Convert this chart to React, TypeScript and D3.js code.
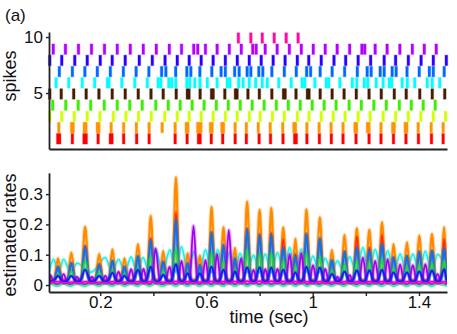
import React, { useEffect, useRef } from 'react';
import * as d3 from 'd3';

// ---- raster: spike times (sec), one list per neuron, row 1 (bottom) first ----
const spikesRed = [0.040, 0.047, 0.095, 0.139, 0.147, 0.192, 0.238, 0.244, 0.288, 0.337, 0.384, 0.482, 0.527, 0.570, 0.576, 0.618, 0.661, 0.708, 0.750, 0.798, 0.841, 0.888, 0.932, 0.938, 0.978, 1.025, 1.070, 1.114, 1.163, 1.212, 1.257, 1.304, 1.351, 1.398, 1.447, 1.491];
const spikesOrange = [0.044, 0.092, 0.098, 0.140, 0.146, 0.189, 0.195, 0.241, 0.288, 0.336, 0.384, 0.433, 0.482, 0.524, 0.530, 0.567, 0.573, 0.579, 0.615, 0.621, 0.658, 0.664, 0.708, 0.750, 0.795, 0.840, 0.887, 0.929, 0.935, 0.978, 1.024, 1.069, 1.114, 1.159, 1.165, 1.206, 1.212, 1.257, 1.301, 1.307, 1.348, 1.354, 1.397, 1.446, 1.491];
const spikesLime = [0.010, 0.055, 0.102, 0.151, 0.199, 0.249, 0.297, 0.344, 0.392, 0.443, 0.490, 0.535, 0.580, 0.625, 0.671, 0.716, 0.761, 0.802, 0.848, 0.893, 0.942, 0.986, 1.032, 1.077, 1.122, 1.171, 1.216, 1.265, 1.312, 1.360, 1.407, 1.454, 1.500];
const spikesGreen = [0.021, 0.070, 0.117, 0.164, 0.215, 0.264, 0.311, 0.358, 0.409, 0.456, 0.501, 0.546, 0.591, 0.637, 0.682, 0.727, 0.772, 0.817, 0.863, 0.908, 0.953, 0.998, 1.043, 1.088, 1.137, 1.183, 1.230, 1.277, 1.326, 1.371, 1.416, 1.461];
const spikesBrown = [0.010, 0.053, 0.100, 0.147, 0.195, 0.245, 0.294, 0.343, 0.391, 0.437, 0.486, 0.528, 0.534, 0.576, 0.619, 0.625, 0.669, 0.709, 0.715, 0.756, 0.799, 0.846, 0.890, 0.896, 0.937, 0.980, 0.986, 1.028, 1.073, 1.118, 1.164, 1.212, 1.258, 1.307, 1.352, 1.403, 1.450, 1.497];
const spikesCyan = [0.034, 0.081, 0.132, 0.179, 0.227, 0.233, 0.281, 0.330, 0.377, 0.418, 0.428, 0.458, 0.469, 0.484, 0.526, 0.537, 0.556, 0.575, 0.603, 0.640, 0.678, 0.688, 0.721, 0.738, 0.761, 0.785, 0.810, 0.829, 0.872, 0.919, 0.960, 0.970, 1.008, 1.051, 1.060, 1.102, 1.149, 1.166, 1.194, 1.207, 1.239, 1.265, 1.288, 1.297, 1.337, 1.356, 1.384, 1.431, 1.450, 1.478];
const spikesAzure = [0.046, 0.095, 0.142, 0.189, 0.238, 0.287, 0.335, 0.383, 0.431, 0.447, 0.484, 0.526, 0.541, 0.575, 0.620, 0.655, 0.671, 0.706, 0.723, 0.753, 0.767, 0.797, 0.812, 0.846, 0.893, 0.938, 0.977, 0.992, 1.028, 1.073, 1.120, 1.168, 1.205, 1.220, 1.254, 1.269, 1.299, 1.314, 1.355, 1.401, 1.439, 1.454, 1.495];
const spikesBlue = [0.010, 0.055, 0.104, 0.151, 0.200, 0.245, 0.294, 0.347, 0.396, 0.444, 0.490, 0.535, 0.580, 0.625, 0.671, 0.716, 0.761, 0.806, 0.851, 0.896, 0.942, 0.985, 1.032, 1.080, 1.124, 1.171, 1.218, 1.269, 1.312, 1.360, 1.408, 1.454, 1.503];
const spikesPurple = [0.023, 0.069, 0.118, 0.167, 0.216, 0.264, 0.313, 0.362, 0.411, 0.460, 0.506, 0.552, 0.567, 0.596, 0.640, 0.686, 0.731, 0.774, 0.787, 0.821, 0.866, 0.912, 0.957, 1.002, 1.047, 1.092, 1.139, 1.185, 1.196, 1.235, 1.280, 1.328, 1.375, 1.420, 1.465];
const spikesMagenta = [0.720, 0.767, 0.810, 0.855, 0.900, 0.945];

const rasterRows = [spikesRed, spikesOrange, spikesLime, spikesGreen, spikesBrown, spikesCyan, spikesAzure, spikesBlue, spikesPurple, spikesMagenta];
const rowColors = ['#ff0000', '#ff9400', '#d2ff00', '#3cf000', '#4a1c00', '#00ffff', '#0068ff', '#2a00ff', '#b400ff', '#ff0aa0'];

// ---- estimated rates ----
const burstTimes = [0.041, 0.091, 0.143, 0.196, 0.246, 0.291, 0.342, 0.390, 0.437, 0.485, 0.529, 0.575, 0.619, 0.664, 0.707, 0.753, 0.800, 0.844, 0.889, 0.935, 0.976, 1.027, 1.072, 1.120, 1.166, 1.213, 1.261, 1.304, 1.355, 1.401, 1.449, 1.495];
const rateOrange = [0.088, 0.107, 0.192, 0.102, 0.118, 0.088, 0.135, 0.228, 0.112, 0.355, 0.105, 0.097, 0.258, 0.19, 0.123, 0.275, 0.248, 0.255, 0.19, 0.152, 0.25, 0.223, 0.115, 0.165, 0.187, 0.182, 0.207, 0.135, 0.141, 0.163, 0.168, 0.19];
const rateRed = [0.060, 0.073, 0.131, 0.069, 0.080, 0.060, 0.092, 0.155, 0.076, 0.241, 0.071, 0.066, 0.175, 0.129, 0.084, 0.187, 0.169, 0.173, 0.150, 0.103, 0.170, 0.152, 0.078, 0.112, 0.160, 0.124, 0.165, 0.092, 0.096, 0.111, 0.114, 0.150];
const rateAzure = [0.06, 0.072, 0.126, 0.066, 0.08, 0.06, 0.096, 0.148, 0.077, 0.215, 0.072, 0.066, 0.173, 0.132, 0.088, 0.184, 0.165, 0.165, 0.124, 0.096, 0.168, 0.154, 0.083, 0.11, 0.124, 0.116, 0.135, 0.091, 0.096, 0.11, 0.113, 0.121];
const rateGreen = [0.037, 0.045, 0.081, 0.043, 0.05, 0.037, 0.057, 0.096, 0.047, 0.12, 0.044, 0.041, 0.108, 0.08, 0.052, 0.115, 0.104, 0.107, 0.08, 0.064, 0.105, 0.094, 0.048, 0.069, 0.079, 0.076, 0.087, 0.057, 0.059, 0.068, 0.071, 0.08];
const rateBlue = [0.03, 0.03, 0.05, 0.03, 0.04, 0.03, 0.05, 0.06, 0.033, 0.069, 0.038, 0.038, 0.06, 0.05, 0.044, 0.058, 0.058, 0.057, 0.05, 0.041, 0.06, 0.057, 0.036, 0.044, 0.048, 0.048, 0.05, 0.041, 0.041, 0.044, 0.048, 0.052];
const rateMagenta = [0.011, 0.010, 0.011, 0.010, 0.011, 0.010, 0.011, 0.011, 0.010, 0.012, 0.011, 0.010, 0.012, 0.011, 0.012, 0.013, 0.013, 0.013, 0.012, 0.012, 0.011, 0.011, 0.010, 0.011, 0.011, 0.011, 0.011, 0.010, 0.011, 0.011, 0.011, 0.011];

const cyanTimes = [0.024, 0.062, 0.113, 0.219, 0.269, 0.316, 0.361, 0.408, 0.462, 0.506, 0.553, 0.596, 0.642, 0.688, 0.726, 0.777, 0.821, 0.867, 0.913, 0.957, 1.001, 1.047, 1.093, 1.139, 1.189, 1.235, 1.282, 1.329, 1.377, 1.424, 1.470];
const rateCyan = [0.085, 0.085, 0.072, 0.091, 0.085, 0.093, 0.091, 0.118, 0.116, 0.126, 0.11, 0.116, 0.116, 0.11, 0.105, 0.098, 0.102, 0.107, 0.124, 0.119, 0.096, 0.088, 0.08, 0.093, 0.124, 0.118, 0.113, 0.102, 0.102, 0.112, 0.101];

const purpleTimes = [0.012, 0.062, 0.112, 0.169, 0.219, 0.269, 0.316, 0.363, 0.408, 0.461, 0.506, 0.551, 0.596, 0.640, 0.684, 0.730, 0.777, 0.821, 0.867, 0.913, 0.957, 1.001, 1.047, 1.093, 1.139, 1.189, 1.235, 1.282, 1.329, 1.377, 1.424, 1.470];
const ratePurple = [0.033, 0.036, 0.027, 0.027, 0.03, 0.044, 0.052, 0.053, 0.121, 0.06, 0.08, 0.195, 0.082, 0.102, 0.181, 0.088, 0.05, 0.052, 0.053, 0.102, 0.105, 0.066, 0.053, 0.027, 0.033, 0.091, 0.08, 0.085, 0.068, 0.066, 0.069, 0.036];
const rateMint = [0.004, 0.004, 0.004, 0.004, 0.004, 0.004, 0.004, 0.004, 0.004, 0.004, 0.004, 0.004, 0.004, 0.004, 0.004, 0.004, 0.004, 0.004, 0.004, 0.004, 0.004, 0.004, 0.004, 0.004, 0.004, 0.004, 0.004, 0.004, 0.004, 0.004, 0.004, 0.004];

// trough levels between peaks
const troughs = { cyan: 0.042, orange: 0.018, red: 0.014, azure: 0.012, green: 0.01, purple: 0.003, blue: 0.012, mint: -0.004, magenta: 0.005 };

const xTicks = [0.2, 0.4, 0.6, 0.8, 1.0, 1.2, 1.4];
const xTickLabels = ['0.2', '', '0.6', '', '1', '', '1.4'];
const spikeTicks = [5, 10];
const rateTicks = [0, 0.1, 0.2, 0.3];

const FONT = "'Liberation Sans', Arial, Helvetica, sans-serif";

const App = () => {
  const svgRef = useRef(null);

  useEffect(() => {
    const svg = d3.select(svgRef.current);
    svg.selectAll('*').remove();

    const x = d3.scaleLinear().domain([0.007, 1.5055]).range([49, 447]);
    const ySpk = d3.scaleLinear().domain([0, 10.45]).range([149, 32]);
    const yRate = d3.scaleLinear().domain([-0.023, 0.37]).range([292, 172.9]);

    // clip for rate curves
    svg.append('defs').append('clipPath').attr('id', 'rclip')
      .append('rect').attr('x', 49).attr('y', 160).attr('width', 398).attr('height', 132);

    // raster
    rasterRows.forEach((times, i) => {
      const row = i + 1;
      const top = ySpk(row + 0.38);
      const h = ySpk(row - 0.55) - top;
      svg.append('g')
        .selectAll('rect')
        .data(times)
        .enter()
        .append('rect')
        .attr('x', d => x(d) - 1.3)
        .attr('y', top)
        .attr('width', 2.6)
        .attr('height', h)
        .attr('fill', rowColors[i])
        .attr('stroke', rowColors[i])
        .attr('stroke-opacity', 0.3)
        .attr('stroke-width', 1.2);
    });

    // top axes
    const yAxisTop = svg.append('g')
      .attr('transform', 'translate(49,0)')
      .call(d3.axisLeft(ySpk).tickValues(spikeTicks).tickSize(3).tickSizeOuter(0).tickPadding(3));
    const xAxisTop = svg.append('g')
      .attr('transform', 'translate(0,149)')
      .call(d3.axisBottom(x).tickValues([]).tickSizeOuter(0));

    // rate curves: peaks joined through trough points (frac = share of gap used by rise)
    const peakPoints = (times, peaks, base, frac) => {
      const pts = [[x.domain()[0], base]];
      times.forEach((t, i) => {
        const prev = i > 0 ? t - times[i - 1] : times[1] - times[0];
        const next = i < times.length - 1 ? times[i + 1] - t : t - times[i - 1];
        pts.push([t - frac * prev, base], [t, peaks[i]], [t + frac * next, base]);
      });
      pts.push([x.domain()[1], base]);
      return pts.sort((a, b) => a[0] - b[0]);
    };
    const wavePoints = (times, peaks, base) => {
      const pts = [[x.domain()[0], base]];
      times.forEach((t, i) => {
        pts.push([t, peaks[i]]);
        if (i < times.length - 1) pts.push([(t + times[i + 1]) / 2, base]);
      });
      pts.push([x.domain()[1], base]);
      return pts.sort((a, b) => a[0] - b[0]);
    };

    const series = [
      { pts: wavePoints(cyanTimes, rateCyan, troughs.cyan), color: '#12f2f2', w: 1.6 },
      { pts: peakPoints(burstTimes, rateOrange, troughs.orange, 0.3), color: '#ff8a00', w: 2.2 },
      { pts: peakPoints(burstTimes, rateRed, troughs.red, 0.28), color: '#ff1a00', w: 1.2 },
      { pts: peakPoints(burstTimes, rateAzure, troughs.azure, 0.3), color: '#0a74f0', w: 2.0 },
      { pts: peakPoints(burstTimes, rateGreen, troughs.green, 0.32), color: '#20dc30', w: 1.4 },
      { pts: peakPoints(purpleTimes, ratePurple, troughs.purple, 0.34), color: '#a400f0', w: 1.8 },
      { pts: peakPoints(burstTimes, rateBlue, troughs.blue, 0.4), color: '#1616ff', w: 1.9 },
      { pts: wavePoints(purpleTimes, rateMint, troughs.mint), color: '#30f090', w: 1.6 },
      { pts: wavePoints(burstTimes, rateMagenta, troughs.magenta), color: '#f000c8', w: 1.7 }
    ];

    const line = d3.line()
      .x(d => x(d[0]))
      .y(d => yRate(d[1]))
      .curve(d3.curveMonotoneX);

    const rates = svg.append('g').attr('clip-path', 'url(#rclip)');
    series.forEach(s => {
      rates.append('path')
        .attr('d', line(s.pts))
        .attr('fill', 'none')
        .attr('stroke', s.color)
        .attr('stroke-opacity', 0.3)
        .attr('stroke-width', s.w + 2);
      rates.append('path')
        .attr('d', line(s.pts))
        .attr('fill', 'none')
        .attr('stroke', s.color)
        .attr('stroke-width', s.w);
    });

    // bottom axes
    const yAxisBot = svg.append('g')
      .attr('transform', 'translate(49,0)')
      .call(d3.axisLeft(yRate).tickValues(rateTicks).tickSize(3).tickSizeOuter(0).tickPadding(3)
        .tickFormat(d => (d === 0 ? '0' : d3.format('.1f')(d))));
    const xAxisBot = svg.append('g')
      .attr('transform', 'translate(0,292)')
      .call(d3.axisBottom(x).tickValues(xTicks).tickSize(4).tickSizeOuter(0).tickPadding(0)
        .tickFormat((d, i) => xTickLabels[i]));

    [yAxisTop, xAxisTop, yAxisBot, xAxisBot].forEach(a => {
      a.select('.domain').attr('stroke', '#222').attr('stroke-width', 1.8);
      a.selectAll('.tick line').attr('stroke', '#222').attr('stroke-width', 1.4);
      a.selectAll('text').attr('fill', '#111').style('font-size', '17px').style('font-family', FONT);
    });

    // titles
    svg.append('text').attr('x', 5).attr('y', 21).text('(a)')
      .style('font-size', '17px').style('font-family', FONT).attr('fill', '#111');
    svg.append('text').attr('transform', 'translate(16,76) rotate(-90)').attr('text-anchor', 'middle')
      .text('spikes').style('font-size', '18px').style('font-family', FONT).attr('fill', '#111');
    svg.append('text').attr('transform', 'translate(16,235) rotate(-90)').attr('text-anchor', 'middle')
      .text('estimated rates').style('font-size', '18px').style('font-family', FONT).attr('fill', '#111');
    svg.append('text').attr('x', 269).attr('y', 323).attr('text-anchor', 'middle')
      .text('time (sec)').style('font-size', '18px').style('font-family', FONT).attr('fill', '#111');
  }, []);

  return (
    <div style={{ position: 'absolute', left: 0, top: 0, width: 457, height: 334, background: '#fff' }}>
      <svg ref={svgRef} width={457} height={334} style={{ display: 'block' }} />
    </div>
  );
};

export default App;
